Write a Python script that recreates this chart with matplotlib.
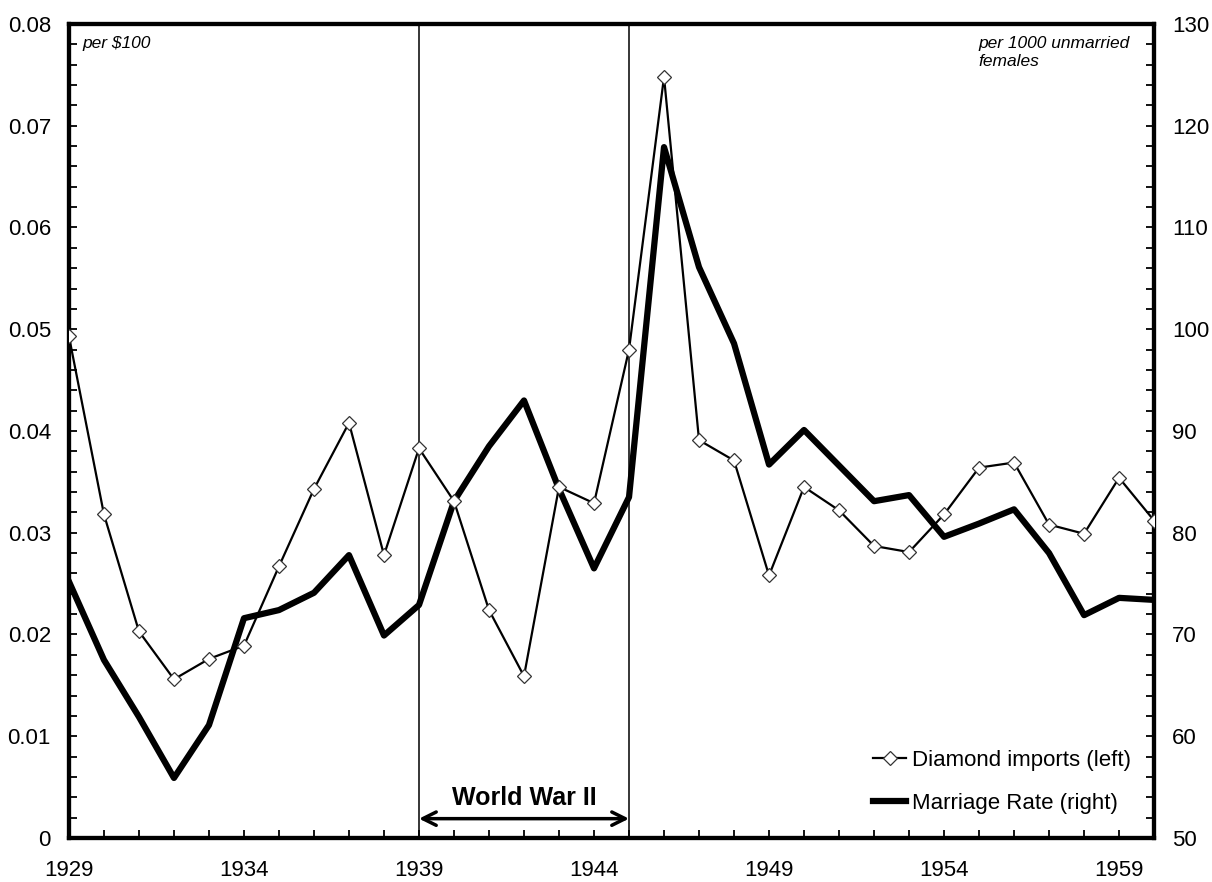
import matplotlib.pyplot as plt
from matplotlib.ticker import MultipleLocator, FixedLocator

plt.rcParams['font.family'] = ['Liberation Sans', 'DejaVu Sans']

# Données
years = list(range(1929, 1961))
diamond = [0.0493, 0.0318, 0.0203, 0.0156, 0.0176, 0.0189, 0.0267, 0.0343,
           0.0408, 0.0278, 0.0383, 0.0331, 0.0224, 0.0159, 0.0345, 0.0329,
           0.0480, 0.0748, 0.0391, 0.0371, 0.0258, 0.0345, 0.0322, 0.0287,
           0.0281, 0.0318, 0.0364, 0.0369, 0.0308, 0.0299, 0.0354, 0.0312]
marriage = [75.2, 67.5, 61.9, 55.9, 61.1, 71.6, 72.4, 74.1,
            77.8, 69.9, 72.9, 83.1, 88.5, 93.0, 84.3, 76.5,
            83.5, 117.9, 106.1, 98.6, 86.7, 90.1, 86.6, 83.1,
            83.7, 79.6, 80.9, 82.3, 78.0, 71.9, 73.6, 73.4]
war_start, war_end = 1939, 1945

fig = plt.figure(figsize=(12.12, 8.82), dpi=100)
ax = fig.add_axes([0.0569, 0.0499, 0.8953, 0.9229])
ax2 = ax.twinx()
ax.set_zorder(ax2.get_zorder() + 1)
ax.patch.set_visible(False)

l1, = ax.plot(years, diamond, color='black', lw=1.6, marker='D', markersize=7.5,
              markerfacecolor='white', markeredgecolor='#333333', markeredgewidth=0.9,
              label='Diamond imports (left)', zorder=3)
l2, = ax2.plot(years, marriage, color='black', lw=4.5, label='Marriage Rate (right)')

ax.set_xlim(1929, 1960)
ax.set_ylim(0, 0.08)
ax2.set_ylim(50, 130)

ax.xaxis.set_major_locator(FixedLocator(range(1929, 1961, 5)))
ax.xaxis.set_minor_locator(MultipleLocator(1))
ax.yaxis.set_major_locator(MultipleLocator(0.01))
ax.yaxis.set_minor_locator(MultipleLocator(0.002))
ax2.yaxis.set_major_locator(MultipleLocator(10))
ax2.yaxis.set_minor_locator(MultipleLocator(2))
ax.set_yticks([i / 100 for i in range(0, 9)])
ax.set_yticklabels(['0', '0.01', '0.02', '0.03', '0.04', '0.05', '0.06', '0.07', '0.08'])

for a in (ax, ax2):
    a.tick_params(which='both', direction='in', length=6, width=1.3, labelsize=16, pad=13)
    for s in a.spines.values():
        s.set_linewidth(3)
ax.tick_params(axis='x', which='both', pad=16)

# Seconde guerre mondiale
for yr in (war_start, war_end):
    ax.axvline(yr, color='black', lw=1.1, zorder=2)
ax.annotate('', xy=(war_start, 0.0019), xytext=(war_end, 0.0019),
            arrowprops=dict(arrowstyle='<->', color='black', lw=2.5, mutation_scale=24,
                            shrinkA=0, shrinkB=0))
ax.text((war_start + war_end) / 2, 0.0039, 'World War II', ha='center', va='center',
        fontsize=18, fontweight='bold')

ax.text(0.012, 0.985, 'per \\$100', transform=ax.transAxes, ha='left', va='top',
        fontsize=12.5, style='italic')
ax.text(0.838, 0.985, 'per 1000 unmarried\nfemales', transform=ax.transAxes, ha='left',
        va='top', fontsize=12.5, style='italic', linespacing=1.2)

ax.legend(handles=[l1, l2], loc='lower right', bbox_to_anchor=(0.997, 0.005), frameon=False,
          fontsize=16, handlelength=1.5, handletextpad=0.25, labelspacing=1.0)

plt.savefig('out.png', dpi=100)
